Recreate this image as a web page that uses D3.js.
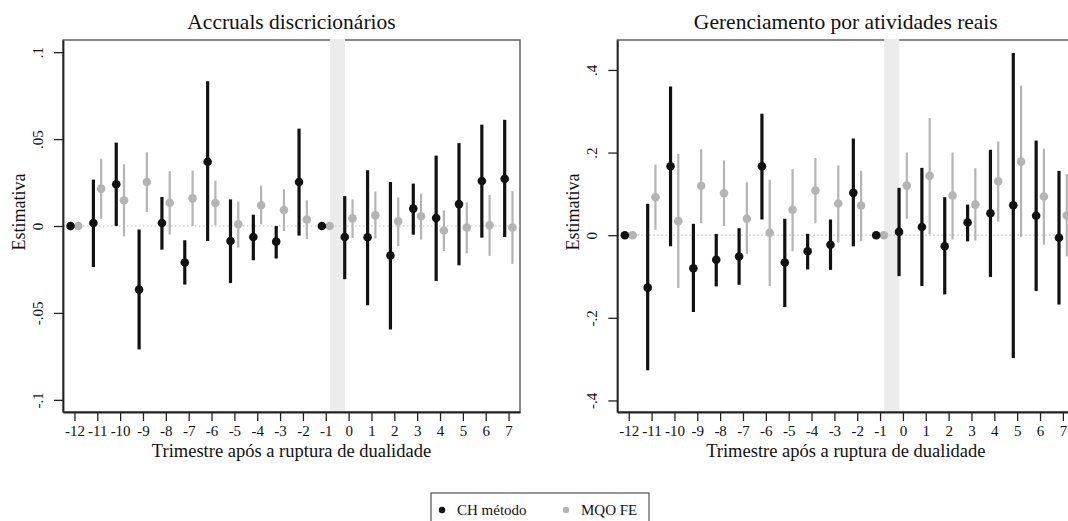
<!DOCTYPE html>
<html>
<head>
<meta charset="utf-8">
<script src="https://cdn.jsdelivr.net/npm/d3@7"></script>
<style>
  body { margin: 0; background: #fff; }
  svg text { font-family: "Liberation Serif", "Times New Roman", serif; fill: #111; }
</style>
</head>
<body>
<svg id="chart" width="1068" height="521"></svg>
<script>
// Event-study estimates: CH method vs OLS fixed effects, two outcomes.

var quarters = [-12, -11, -10, -9, -8, -7, -6, -5, -4, -3, -2, -1, 0, 1, 2, 3, 4, 5, 6, 7];
var xTickLabels = ["-12", "-11", "-10", "-9", "-8", "-7", "-6", "-5", "-4", "-3", "-2", "-1", "0", "1", "2", "3", "4", "5", "6", "7"];

// Accruals discricionarios, CH metodo (null CI = reference period)
var accCH    = [0, 0.0017, 0.024, -0.0366, 0.0017, -0.021, 0.037, -0.0086, -0.0063, -0.009, 0.0253, 0, -0.0063, -0.0065, -0.017, 0.010, 0.0046, 0.0126, 0.0259, 0.0272];
var accCHlo  = [null, -0.0236, 0.000, -0.071, -0.0136, -0.0337, -0.0086, -0.0328, -0.0197, -0.0187, -0.0055, null, -0.0306, -0.0456, -0.0595, -0.005, -0.0316, -0.0226, -0.0067, -0.0063];
var accCHhi  = [null, 0.0267, 0.048, -0.002, 0.0167, -0.0082, 0.0833, 0.0153, 0.0065, 0.000, 0.056, null, 0.0172, 0.032, 0.0253, 0.0244, 0.0405, 0.0477, 0.0583, 0.0611];
// Accruals discricionarios, MQO FE
var accFE    = [0, 0.0215, 0.0148, 0.0253, 0.0134, 0.0159, 0.0132, 0.001, 0.0119, 0.0092, 0.0037, 0, 0.0044, 0.0061, 0.0027, 0.0056, -0.0026, -0.0009, 0.0004, -0.0009];
var accFElo  = [null, 0.0042, -0.0059, 0.008, -0.005, 0.000, 0.0004, -0.0124, 0.001, -0.0029, -0.0076, null, -0.0069, -0.0072, -0.0115, -0.0078, -0.0144, -0.0157, -0.0172, -0.0218];
var accFEhi  = [null, 0.0387, 0.0355, 0.0424, 0.0316, 0.0318, 0.026, 0.014, 0.0232, 0.0211, 0.0148, null, 0.0153, 0.0198, 0.0165, 0.0186, 0.009, 0.0136, 0.0178, 0.0201];

// Gerenciamento por atividades reais, CH metodo
var reaCH    = [0, -0.127, 0.167, -0.080, -0.0595, -0.0515, 0.167, -0.066, -0.0387, -0.0233, 0.1025, 0, 0.008, 0.020, -0.0266, 0.0307, 0.053, 0.0726, 0.0469, -0.0063];
var reaCHlo  = [null, -0.327, -0.027, -0.186, -0.124, -0.120, 0.038, -0.174, -0.083, -0.084, -0.027, null, -0.099, -0.123, -0.1434, -0.015, -0.1015, -0.297, -0.135, -0.168];
var reaCHhi  = [null, 0.076, 0.360, 0.0276, 0.003, 0.017, 0.294, 0.0397, 0.0034, 0.038, 0.234, null, 0.1145, 0.163, 0.092, 0.074, 0.207, 0.441, 0.229, 0.1557];
// Gerenciamento por atividades reais, MQO FE
var reaFE    = [0, 0.092, 0.034, 0.1195, 0.1016, 0.040, 0.0058, 0.0614, 0.108, 0.0767, 0.0718, 0, 0.120, 0.1436, 0.096, 0.074, 0.1306, 0.178, 0.0936, 0.0476];
var reaFElo  = [null, 0.013, -0.128, 0.029, 0.022, -0.045, -0.123, -0.039, 0.029, -0.018, -0.0145, null, 0.0397, 0.003, -0.0104, -0.013, 0.033, -0.004, -0.023, -0.0515];
var reaFEhi  = [null, 0.171, 0.197, 0.208, 0.181, 0.128, 0.134, 0.160, 0.187, 0.169, 0.156, null, 0.200, 0.284, 0.200, 0.162, 0.2266, 0.362, 0.210, 0.148];

var accTicks = [-0.1, -0.05, 0, 0.05, 0.1];
var accTickLabels = ["-.1", "-.05", "0", ".05", ".1"];
var reaTicks = [-0.4, -0.2, 0, 0.2, 0.4];
var reaTickLabels = ["-.4", "-.2", "0", ".2", ".4"];

var seriesNames = ["CH método", "MQO FE"];

var svg = d3.select("#chart");

var black = "#111111";
var grey = "#b4b4b4";
var frameTop = 40, frameBottom = 412, frameW = 457;

function drawPanel (offsetX, title, yDomain, yTicks, yTickLabels, ch, chLo, chHi, fe, feLo, feHi) {
    var left = 63 + offsetX;
    var g = svg.append("g");
    var x = d3.scaleLinear().domain([-12.5, 7.5]).range([left, left + frameW]);
    var y = d3.scaleLinear().domain(yDomain).range([frameBottom, frameTop]);

    // Frame
    g.append("rect")
        .attr("x", left).attr("y", frameTop)
        .attr("width", frameW).attr("height", frameBottom - frameTop)
        .attr("fill", "none").attr("stroke", "#4a4a4a").attr("stroke-width", 1.3);

    // Shaded break between -1 and 0
    g.append("rect")
        .attr("x", x(-0.82)).attr("y", frameTop - 1)
        .attr("width", x(-0.16) - x(-0.82)).attr("height", frameBottom - frameTop)
        .attr("fill", "#ececec");

    // Zero reference line
    g.append("line")
        .attr("x1", left).attr("x2", left + frameW)
        .attr("y1", y(0)).attr("y2", y(0))
        .attr("stroke", "#bdbdbd").attr("stroke-width", 1.2)
        .attr("stroke-dasharray", "1.5,2.5");

    // Axes
    var xAxis = d3.axisBottom(x).tickValues(quarters)
        .tickFormat(function (d, i) { return xTickLabels[i]; })
        .tickSize(9).tickSizeOuter(0).tickPadding(4);
    var gx = g.append("g").attr("transform", "translate(0," + frameBottom + ")").call(xAxis);
    gx.select(".domain").attr("stroke", "#222").attr("stroke-width", 1.8);
    gx.selectAll(".tick line").attr("stroke", "#222").attr("stroke-width", 1.3);
    gx.selectAll(".tick text").attr("font-size", 15).attr("fill", "#111");

    var yAxis = d3.axisLeft(y).tickValues(yTicks)
        .tickFormat(function (d, i) { return yTickLabels[i]; })
        .tickSize(9).tickSizeOuter(0);
    var gy = g.append("g").attr("transform", "translate(" + left + ",0)").call(yAxis);
    gy.select(".domain").attr("stroke", "#222").attr("stroke-width", 1.8);
    gy.selectAll(".tick line").attr("stroke", "#222").attr("stroke-width", 1.3);
    gy.selectAll(".tick text").remove();
    gy.selectAll(".tick").append("text")
        .attr("transform", "translate(-20,0) rotate(-90)")
        .attr("text-anchor", "middle")
        .attr("font-size", 15)
        .attr("fill", "#111")
        .text(function (d, i) { return yTickLabels[i]; });

    // Titles
    g.append("text").attr("x", left + frameW / 2).attr("y", 29)
        .attr("text-anchor", "middle").attr("font-size", 21.5).text(title);
    g.append("text").attr("x", left + frameW / 2).attr("y", 457)
        .attr("text-anchor", "middle").attr("font-size", 18.5)
        .text("Trimestre após a ruptura de dualidade");
    g.append("text")
        .attr("transform", "translate(" + (left - 38) + ",212) rotate(-90)")
        .attr("text-anchor", "middle").attr("font-size", 18).text("Estimativa");

    // Series: [values, low, high, colour, shift, line width]
    var series = [
        [fe, feLo, feHi, grey, 0.17, 2.2],
        [ch, chLo, chHi, black, -0.17, 3.2]
    ];
    series.forEach(function (s) {
        var pts = quarters.map(function (q, i) { return { q: q, v: s[0][i], lo: s[1][i], hi: s[2][i] }; });
        g.selectAll(null).data(pts.filter(function (p) { return p.lo !== null; }))
            .enter().append("line")
            .attr("x1", function (p) { return x(p.q + s[4]); })
            .attr("x2", function (p) { return x(p.q + s[4]); })
            .attr("y1", function (p) { return y(p.lo); })
            .attr("y2", function (p) { return y(p.hi); })
            .attr("stroke", s[3]).attr("stroke-width", s[5]);
        g.selectAll(null).data(pts)
            .enter().append("circle")
            .attr("cx", function (p) { return x(p.q + s[4]); })
            .attr("cy", function (p) { return y(p.v); })
            .attr("r", 4.3)
            .attr("fill", s[3]);
    });
}

drawPanel(0, "Accruals discricionários", [-0.107, 0.107], accTicks, accTickLabels,
    accCH, accCHlo, accCHhi, accFE, accFElo, accFEhi);
drawPanel(554.3, "Gerenciamento por atividades reais", [-0.428, 0.4725], reaTicks, reaTickLabels,
    reaCH, reaCHlo, reaCHhi, reaFE, reaFElo, reaFEhi);

// Legend
var legend = svg.append("g");
legend.append("rect")
    .attr("x", 431).attr("y", 493).attr("width", 218).attr("height", 36)
    .attr("fill", "none").attr("stroke", "#555").attr("stroke-width", 1.2);
var legendColours = [black, grey];
var legendX = [442, 566];
seriesNames.forEach(function (name, i) {
    legend.append("circle").attr("cx", legendX[i]).attr("cy", 510).attr("r", 3.2).attr("fill", legendColours[i]);
    legend.append("text").attr("x", legendX[i] + 15).attr("y", 515).attr("font-size", 15).text(name);
});
</script>
</body>
</html>
